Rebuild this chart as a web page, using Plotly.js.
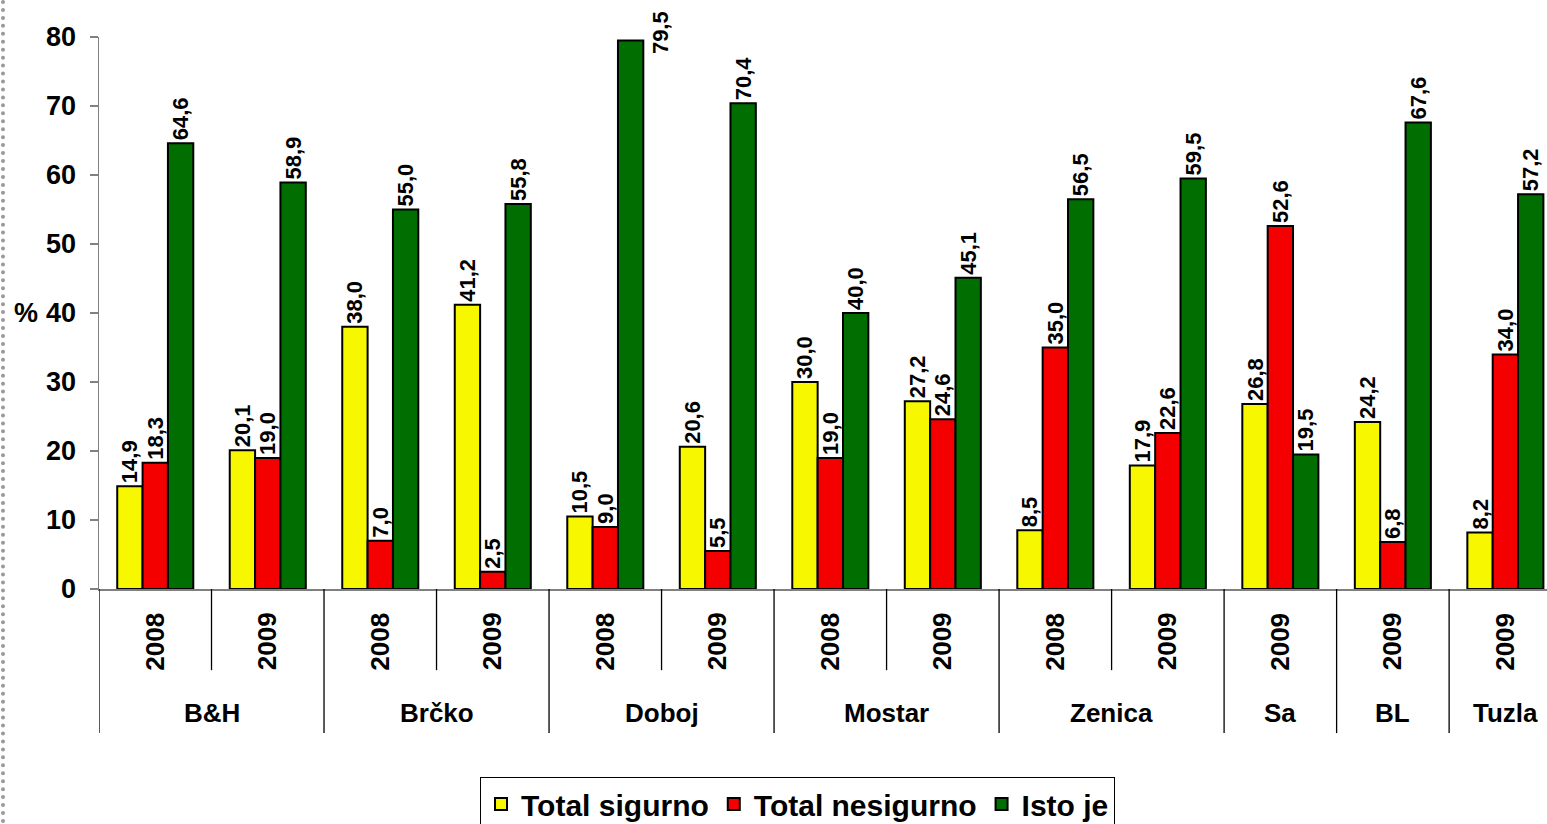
<!DOCTYPE html>
<html>
<head>
<meta charset="utf-8">
<script src="https://cdn.plot.ly/plotly-3.0.1.min.js"></script>
<style>
  html, body { margin: 0; padding: 0; background: #fff; }
  #wrap { position: relative; width: 1547px; height: 824px; overflow: hidden; }
  #chart { width: 1547px; height: 824px; }
  #dots { position: absolute; left: 1px; top: 0; height: 824px; border-left: 4px dotted #999; }
</style>
</head>
<body>
<div id="wrap">
  <div id="chart"></div>
  <div id="dots"></div>
</div>
<script>
// ---- data ----
const years = ['2008','2009','2008','2009','2008','2009','2008','2009','2008','2009','2009','2009','2009'];
const groups = ['B&H','Brčko','Doboj','Mostar','Zenica','Sa','BL','Tuzla'];
const groupSpans = [2,2,2,2,2,1,1,1];
const seriesNames = ['Total sigurno','Total nesigurno','Isto je'];
const totalSigurno   = [14.9, 20.1, 38.0, 41.2, 10.5, 20.6, 30.0, 27.2, 8.5, 17.9, 26.8, 24.2, 8.2];
const totalNesigurno = [18.3, 19.0, 7.0, 2.5, 9.0, 5.5, 19.0, 24.6, 35.0, 22.6, 52.6, 6.8, 34.0];
const istoJe         = [64.6, 58.9, 55.0, 55.8, 79.5, 70.4, 40.0, 45.1, 56.5, 59.5, 19.5, 67.6, 57.2];
const yTicks = [0,10,20,30,40,50,60,70,80];

// ---- styling ----
const FONT = 'Arial, "Liberation Sans", sans-serif';
const colors = ['#F7F700','#F40000','#006E00'];
const xs = years.map((_, i) => i + 0.5);
const fmt = v => v.toFixed(1).replace('.', ',');
const values = [totalSigurno, totalNesigurno, istoJe];

const traces = values.map((vals, k) => ({
  type: 'bar',
  name: seriesNames[k],
  x: xs,
  y: vals,
  text: vals.map(v => v > 75 ? '' : fmt(v)),
  textposition: 'outside',
  textangle: -90,
  constraintext: 'none',
  cliponaxis: false,
  textfont: { family: FONT, size: 22, color: '#000', weight: 'bold' },
  marker: { color: colors[k], line: { color: '#000', width: 2 } },
  hoverinfo: 'skip'
}));

const shapes = [];
const annotations = [];
// year labels
years.forEach((yr, i) => {
  annotations.push({
    x: i + 0.5, xref: 'x', y: -0.095, yref: 'paper',
    text: '<b>' + yr + '</b>', textangle: -90, showarrow: false,
    font: { family: FONT, size: 26, color: '#000' },
    xanchor: 'center', yanchor: 'middle'
  });
});
// group labels + separators
let pos = 0;
groups.forEach((g, gi) => {
  const span = groupSpans[gi];
  annotations.push({
    x: pos + span / 2, xref: 'x', y: -0.224, yref: 'paper',
    text: '<b>' + g + '</b>', showarrow: false,
    font: { family: FONT, size: 26, color: '#000' },
    xanchor: 'center', yanchor: 'middle'
  });
  shapes.push({ type: 'line', xref: 'x', yref: 'paper', x0: pos, x1: pos, y0: 0, y1: -0.261,
    line: { color: '#000', width: 1.3 } });
  for (let s = 1; s < span; s++) {
    shapes.push({ type: 'line', xref: 'x', yref: 'paper', x0: pos + s, x1: pos + s, y0: 0, y1: -0.147,
      line: { color: '#000', width: 1.3 } });
  }
  pos += span;
});
// side label for the tallest bar (would run off the top)
const groupW = 0.676, barW = groupW / 3;
values.forEach((vals, k) => {
  vals.forEach((v, i) => {
    if (v > 75) {
      annotations.push({
        x: i + 0.5 + (k - 1) * barW, xref: 'x', y: v, yref: 'y',
        text: '<b>' + fmt(v) + '</b>', textangle: -90, showarrow: false,
        font: { family: FONT, size: 22, color: '#000' },
        xanchor: 'center', yanchor: 'middle', xshift: 30, yshift: 8
      });
    }
  });
});
// % axis label
annotations.push({
  x: 0, xref: 'paper', xshift: -73, y: 40, yref: 'y',
  text: '<b>%</b>', showarrow: false,
  font: { family: FONT, size: 27, color: '#000' },
  xanchor: 'center', yanchor: 'middle'
});

const layout = {
  width: 1547, height: 824,
  margin: { l: 99, r: 0, t: 37, b: 235, autoexpand: false },
  paper_bgcolor: '#fff', plot_bgcolor: '#fff',
  barmode: 'group', bargap: 0.324, bargroupgap: 0,
  showlegend: true,
  legend: {
    orientation: 'h', x: 0.4824, xanchor: 'center',
    yref: 'container', y: 0.057, yanchor: 'top',
    bordercolor: '#000', borderwidth: 1, bgcolor: '#fff',
    font: { family: FONT, size: 30, color: '#000', weight: 'bold' },
    traceorder: 'normal', itemwidth: 30
  },
  xaxis: {
    range: [0, 12.87], showticklabels: false, showgrid: false, zeroline: false,
    showline: true, linecolor: '#808080', linewidth: 1.5, ticks: '', fixedrange: true
  },
  yaxis: {
    range: [0, 80], tickvals: yTicks, ticktext: yTicks.map(String),
    showgrid: false, zeroline: false, showline: true, linecolor: '#808080', linewidth: 1.5,
    ticks: 'outside', ticklen: 8, tickcolor: '#808080', tickwidth: 1.5,
    ticklabelstandoff: 8,
    tickfont: { family: FONT, size: 27, color: '#000', weight: 'bold' }, fixedrange: true
  },
  shapes: shapes,
  annotations: annotations
};

Plotly.newPlot('chart', traces, layout, { displayModeBar: false, staticPlot: true });
</script>
</body>
</html>
